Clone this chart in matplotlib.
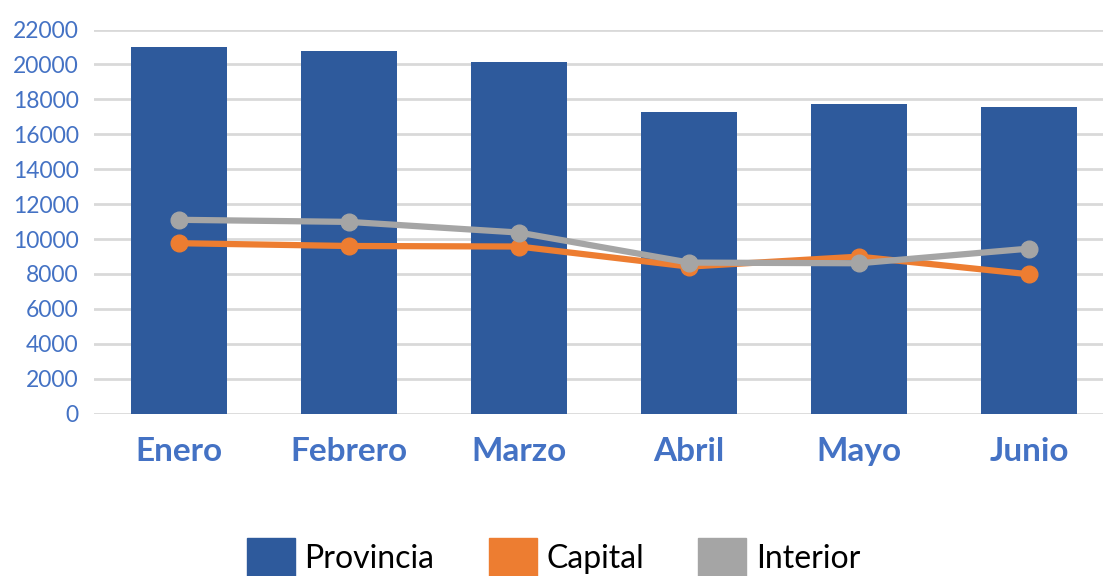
import matplotlib
matplotlib.use('Agg')

import numpy as np
from matplotlib import pyplot as plt
from matplotlib.patches import Patch


# Datos
meses = ['Enero', 'Febrero', 'Marzo', 'Abril', 'Mayo', 'Junio']
provincia = [21000, 20760, 20130, 17300, 17760, 17550]
capital = [9760, 9600, 9570, 8420, 8990, 7980]
interior = [11100, 10980, 10370, 8650, 8610, 9450]

# Colores
azul = '#2E5A9C'
naranja = '#ED7D31'
gris = '#A5A5A5'
azul_texto = '#4472C4'

plt.rcParams['font.family'] = ['Lato', 'DejaVu Sans']

fig = plt.figure(figsize=(11.03, 5.76), dpi=100)
ax = fig.add_axes([94 / 1103, 1 - 413.6 / 576, 1020 / 1103, 384.1 / 576])

x = np.arange(len(meses))

ax.bar(x, provincia, width=0.57, color=azul, zorder=2)
ax.plot(x, capital, color=naranja, linewidth=4.5, marker='o', markersize=12, zorder=3)
ax.plot(x, interior, color=gris, linewidth=4.5, marker='o', markersize=12, zorder=4)

ax.set_xlim(-0.5, 5.5)
ax.set_ylim(0, 22000)
ax.set_yticks(np.arange(0, 22001, 2000))
ax.set_xticks(x)
ax.set_xticklabels(meses, fontsize=24, fontweight='bold', color=azul_texto)
ax.tick_params(axis='y', labelsize=16.5, labelcolor=azul_texto, length=0, pad=11)
ax.tick_params(axis='x', length=0, pad=17)

ax.grid(axis='y', color='#D9D9D9', linewidth=2, zorder=0)
ax.set_axisbelow(True)
for s in ax.spines.values():
    s.set_visible(False)

# Leyenda con cuadrados
handles = [Patch(color=azul, label='Provincia'),
           Patch(color=naranja, label='Capital'),
           Patch(color=gris, label='Interior')]
fig.legend(handles=handles, loc='center', bbox_to_anchor=(0.502, 1 - 557 / 576),
           ncol=3, frameon=False, fontsize=23, handlelength=1.5, handleheight=1.5,
           handletextpad=0.3, columnspacing=1.7, labelcolor='black')

fig.savefig('out.png', dpi=100)
